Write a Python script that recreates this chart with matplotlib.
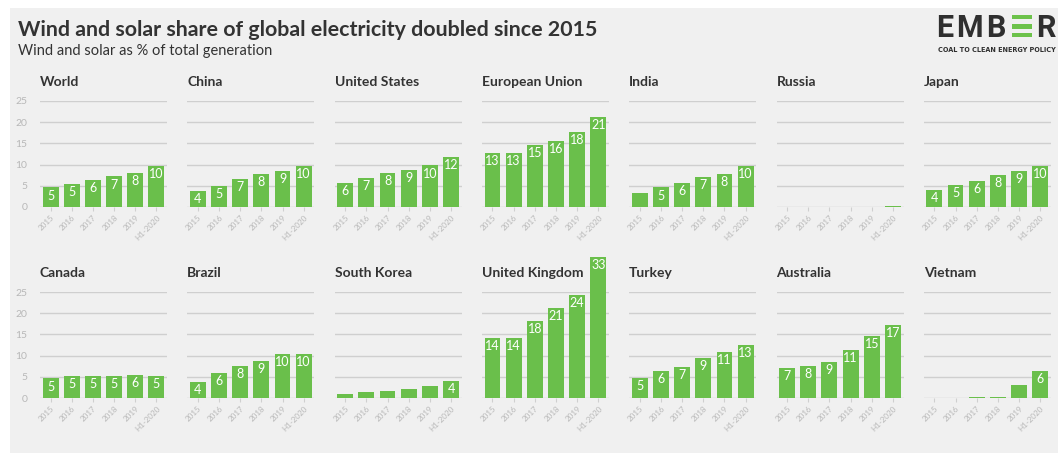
import numpy as np
import matplotlib
matplotlib.use("Agg")
import matplotlib.pyplot as plt
from matplotlib.patches import Rectangle

plt.rcParams['font.family'] = ['Lato', 'DejaVu Sans']

years = ['2015', '2016', '2017', '2018', '2019', 'H1-2020']

countries = ['World', 'China', 'United States', 'European Union', 'India', 'Russia', 'Japan',
             'Canada', 'Brazil', 'South Korea', 'United Kingdom', 'Turkey', 'Australia', 'Vietnam']

# wind + solar share of generation, %
world = [4.6, 5.4, 6.4, 7.2, 8.0, 9.7]
china = [3.8, 5.0, 6.6, 7.7, 8.6, 9.7]
united_states = [5.6, 6.8, 8.1, 8.7, 9.8, 11.9]
european_union = [12.7, 12.7, 14.6, 15.6, 17.7, 21.3]
india = [3.3, 4.6, 5.7, 7.0, 7.9, 9.6]
russia = [0.05, 0.1, 0.1, 0.1, 0.1, 0.2]
japan = [4.1, 5.1, 6.2, 7.6, 8.6, 9.6]
canada = [4.6, 5.1, 5.1, 5.2, 5.5, 5.2]
brazil = [3.8, 5.9, 7.5, 8.8, 10.3, 10.4]
south_korea = [0.95, 1.3, 1.7, 2.1, 2.9, 4.0]
united_kingdom = [14.2, 14.1, 18.2, 21.3, 24.4, 33.2]
turkey = [4.8, 6.3, 7.3, 9.4, 10.8, 12.6]
australia = [7.0, 7.6, 8.6, 11.3, 14.7, 17.2]
vietnam = [0.1, 0.1, 0.2, 0.2, 3.1, 6.3]

series = [world, china, united_states, european_union, india, russia, japan,
          canada, brazil, south_korea, united_kingdom, turkey, australia, vietnam]

yticks = [0, 5, 10, 15, 20, 25]

W, H = 1063, 453
GREEN = '#6abf4b'
DARK = '#333333'
GRID = '#cfcfcf'
TICKTXT = '#b8b8b8'


def fx(x):
    return x / W


def fy(y):
    return 1 - y / H


fig = plt.figure(figsize=(W / 100, H / 100), dpi=100)
fig.patch.set_facecolor('white')
fig.patches.append(Rectangle((fx(10), 0), fx(1058) - fx(10), fy(8), transform=fig.transFigure,
                             facecolor='#f0f0f0', edgecolor='none', zorder=-10))

fig.text(fx(18), fy(30), 'Wind and solar share of global electricity doubled since 2015',
         fontsize=15.4, fontweight='bold', color=DARK, va='center', ha='left')
fig.text(fx(18), fy(51), 'Wind and solar as % of total generation',
         fontsize=10.5, color=DARK, va='center', ha='left')

# logo
for letter, lx in [('E', 936), ('M', 956), ('B', 986), ('R', 1036)]:
    fig.text(fx(lx), fy(37), letter, fontsize=22, fontweight='bold', color='#2f2f2f',
             family='Roboto', ha='left', va='baseline')
for by in [15, 24.5, 33]:
    fig.patches.append(Rectangle((fx(1012), fy(by + 4)), fx(20), 4 / H, transform=fig.transFigure,
                                 facecolor='#6cc24a', edgecolor='none'))
fig.text(fx(996.5), fy(50), 'COAL TO CLEAN ENERGY POLICY', fontsize=4.7, fontweight='bold',
         color='#2f2f2f', ha='center', va='center', family='DejaVu Sans')

x = np.arange(len(years))
lefts = [40 + i * 147.3 for i in range(7)]
rows = [(101, 207), (292, 398)]

for i, (name, vals) in enumerate(zip(countries, series)):
    r, c = divmod(i, 7)
    top, bottom = rows[r]
    ax = fig.add_axes([fx(lefts[c]), fy(bottom), 127 / W, (bottom - top) / H])
    ax.set_facecolor('none')
    ax.set_xlim(-0.5, 5.5)
    ax.set_ylim(0, 25)
    for s in ax.spines.values():
        s.set_visible(False)
    for t in yticks:
        ax.axhline(t, color=GRID, lw=1, zorder=1)
    ax.bar(x, vals, width=0.75, color=GREEN, zorder=2, clip_on=False)
    for xi, v in zip(x, vals):
        if v >= 3.5:
            ax.annotate(f'{round(v):d}', (xi, v), xytext=(0, -1.5), textcoords='offset points',
                        ha='center', va='top', color='white', fontsize=9, zorder=3,
                        annotation_clip=False)
    ax.set_xticks(x)
    ax.set_xticklabels(years, rotation=45, ha='right', rotation_mode='anchor',
                       fontsize=5.8, color=TICKTXT)
    ax.tick_params(axis='x', length=3, color=GRID, pad=2)
    ax.set_yticks(yticks)
    if c == 0:
        ax.set_yticklabels([str(t) for t in yticks], fontsize=7.5, color=TICKTXT)
        ax.tick_params(axis='y', length=0, pad=9)
    else:
        ax.set_yticklabels([])
        ax.tick_params(axis='y', length=0)
    ax.text(0, 1 + 19 / (bottom - top), name, transform=ax.transAxes, fontsize=10,
            fontweight='bold', color=DARK, ha='left', va='center')

fig.savefig('out.png', dpi=100)
